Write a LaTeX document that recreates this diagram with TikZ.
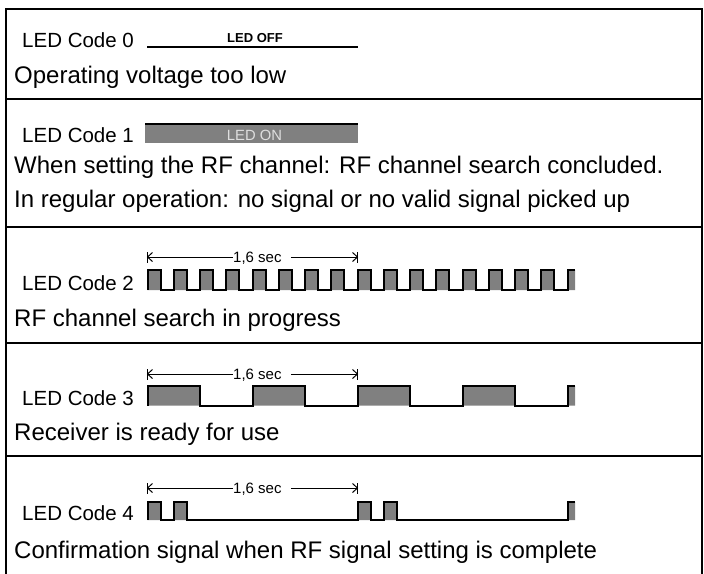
\documentclass[tikz,border=0pt]{standalone}
\usepackage{fontspec}
\setmainfont{Liberation Sans}
\definecolor{wavegray}{RGB}{128,128,128}
\definecolor{ontext}{RGB}{222,222,222}
\def\xo{147.5}
\def\T{210}
\newcommand{\secarrow}[2]{%
  \coordinate (#1s) at (\xo,#2);
  \coordinate (#1e) at (\xo+\T,#2);
  \node[timelabel] (#1t) at (233,#2+5.3) {1,6 sec};
  \coordinate (#1r) at ([xshift=9pt]#1t.east);
  \draw[dim] (#1s) -- (#1t.west |- #1s);
  \draw[dim] (#1r |- #1s) -- (#1e);
  \draw[dim] ([yshift=-5.5pt]#1s) -- ([yshift=5.5pt]#1s);
  \draw[dim] ([shift={(5,-4.5)}]#1s) -- (#1s) -- ([shift={(5,4.5)}]#1s);
  \draw[dim] ([yshift=-5.5pt]#1e) -- ([yshift=5.5pt]#1e);
  \draw[dim] ([shift={(-5,-4.5)}]#1e) -- (#1e) -- ([shift={(-5,4.5)}]#1e);
}
\begin{document}
\begin{tikzpicture}[x=1pt,y=-1pt,
  frame/.style={line width=2pt},
  wave/.style={line width=2pt, line join=miter},
  dim/.style={line width=1pt},
  codelabel/.style={anchor=base west, inner sep=0pt, font=\fontsize{20.5}{24}\selectfont},
  desc/.style={anchor=base west, inner sep=0pt, font=\fontsize{24}{28}\selectfont},
  timelabel/.style={anchor=base west, inner sep=0pt, font=\fontsize{15}{18}\selectfont}]
\useasboundingbox (0,0) rectangle (704,573);

% frame
\coordinate (tl) at (6,9);
\coordinate (tr) at (702,9);
\coordinate (bl) at (6,574);
\coordinate (br) at (702,574);
\draw[frame] (bl) -- (tl) -- (tr) -- (br);
\foreach \yy/\nm in {99.3/s1, 226.7/s2, 343.3/s3, 455.7/s4}{
  \coordinate (\nm l) at (6,\yy);
  \coordinate (\nm r) at (702,\yy);
  \draw[frame] (\nm l) -- (\nm r);
}

% row 0
\node[codelabel] (c0) at (22,47) {LED Code 0};
\coordinate (off s) at (147,47.3);
\coordinate (off e) at (358,47.3);
\draw[line width=2pt] (off s) -- (off e);
\node[anchor=base, inner sep=0pt, font=\fontsize{13}{15}\selectfont\bfseries] (offt) at (255,42) {LED OFF};
\node[desc] (d0) at (14,83) {Operating voltage too low};

% row 1
\node[codelabel] (c1) at (22,142) {LED Code 1};
\coordinate (on s) at (145,123.5);
\coordinate (on e) at (358,123.5);
\fill[wavegray] (145,124) rectangle (357.5,143.3);
\draw[line width=2pt] (on s) -- (on e);
\node[anchor=base, inner sep=0pt, text=ontext, font=\fontsize{14.8}{17}\selectfont] (ont) at (254.5,140.5) {LED ON};
\node[desc] (d1a) at (14,173) {When setting the RF channel: RF channel search concluded.};
\node[desc] (d1b) at (14,207) {In regular operation: no signal or no valid signal picked up};

% row 2
\secarrow{a2}{257}
\node[codelabel] (c2) at (22,290) {LED Code 2};
\fill[wavegray] \foreach \i in {0,...,15} { (\xo+\i*\T/8, 270) rectangle ++(\T/16, 20) } (\xo+2*\T, 270) rectangle (575, 290);
\draw[wave] (\xo,290) \foreach \i in {1,...,16} { -- ++(0,-20) -- ++(\T/16,0) -- ++(0,20) -- ++(\T/16,0) } -- ++(0,-20) -- (575,270);
\node[desc] (d2) at (14,326) {RF channel search in progress};

% row 3
\secarrow{a3}{374}
\node[codelabel] (c3) at (22,405.5) {LED Code 3};
\fill[wavegray] \foreach \i in {0,...,3} { (\xo+\i*\T/2, 386) rectangle ++(\T/4, 19.5) } (\xo+2*\T, 386) rectangle (575, 405.5);
\draw[wave] (\xo,405.5) \foreach \i in {1,...,4} { -- ++(0,-19.5) -- ++(\T/4,0) -- ++(0,19.5) -- ++(\T/4,0) } -- ++(0,-19.5) -- (575,386);
\node[desc] (d3) at (14,440) {Receiver is ready for use};

% row 4
\secarrow{a4}{488}
\node[codelabel] (c4) at (22,520) {LED Code 4};
\fill[wavegray] \foreach \i in {0,1} { (\xo+\i*\T, 502) rectangle ++(\T/16, 18) (\xo+\i*\T+\T/8, 502) rectangle ++(\T/16, 18) } (\xo+2*\T, 502) rectangle (575, 520);
\draw[wave] (\xo,520) \foreach \i in {1,2} { -- ++(0,-18) -- ++(\T/16,0) -- ++(0,18) -- ++(\T/16,0) -- ++(0,-18) -- ++(\T/16,0) -- ++(0,18) -- ++(13*\T/16,0) } -- ++(0,-18) -- (575,502);
\node[desc] (d4) at (14,558) {Confirmation signal when RF signal setting is complete};
\end{tikzpicture}
\end{document}
